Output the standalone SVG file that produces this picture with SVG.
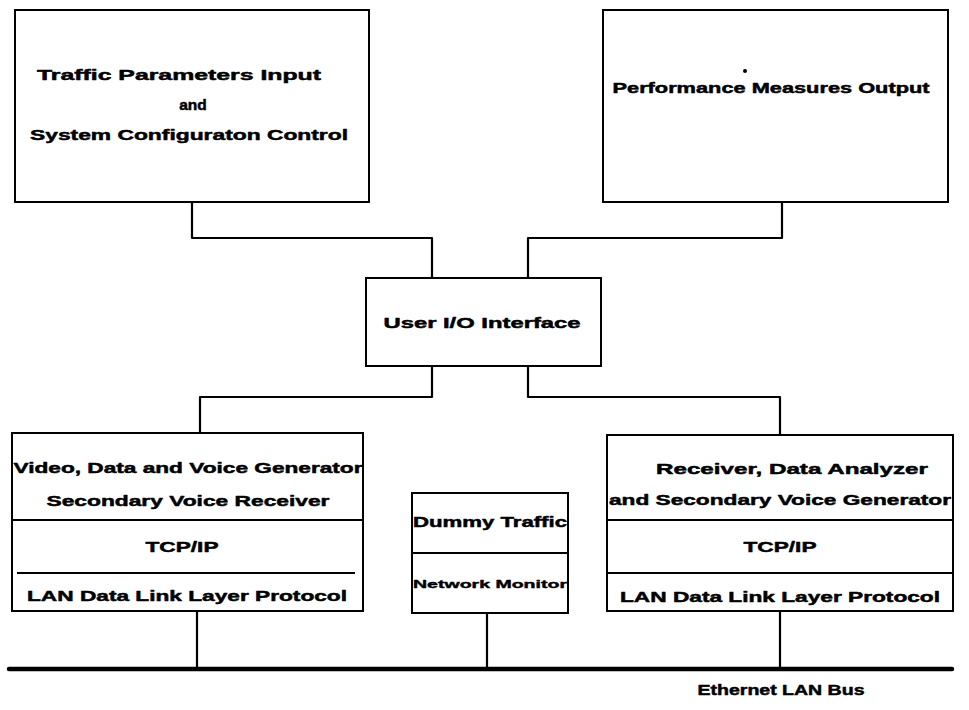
<svg xmlns="http://www.w3.org/2000/svg" width="969" height="710" viewBox="0 0 969 710">
  <style>
    .box { fill: #ffffff; stroke: #000000; stroke-width: 2; }
    .rule { stroke: #000000; stroke-width: 2; fill: none; }
    .wire { stroke: #000000; stroke-width: 2.2; fill: none; stroke-linejoin: round; }
    .bus { stroke: #000000; stroke-width: 4.5; fill: none; stroke-linecap: round; }
    .lbl { font-family: "Liberation Sans", Arial, sans-serif; font-weight: bold; font-size: 15.5px; fill: #000000; stroke: #000000; stroke-width: 0.5; stroke-linejoin: round; text-anchor: middle; }
    .small { font-size: 11.5px; stroke-width: 0.4; }
  </style>
  <rect width="969" height="710" fill="#ffffff"/>

  <!-- connectors -->
  <g id="connectors">
    <path class="wire" d="M192,202 V238 H432 V278"/>
    <path class="wire" d="M782,202 V238 H528 V278"/>
    <path class="wire" d="M432,366 V397 H200 V433"/>
    <path class="wire" d="M528,366 V397 H780 V435"/>
    <path class="wire" d="M197,611 V669"/>
    <path class="wire" d="M487,613 V669"/>
    <path class="wire" d="M780,611 V669"/>
    <path class="bus" d="M9,669 H952"/>
  </g>

  <g id="traffic-input">
    <rect class="box" x="15" y="10" width="354" height="192"/>
    <text class="lbl" x="179" y="80" textLength="284" lengthAdjust="spacingAndGlyphs">Traffic Parameters Input</text>
    <text class="lbl" x="193" y="110">and</text>
    <text class="lbl" x="189" y="140" textLength="318" lengthAdjust="spacingAndGlyphs">System Configuraton Control</text>
  </g>

  <g id="performance-output">
    <rect class="box" x="603" y="10" width="345" height="192"/>
    <circle cx="745" cy="71" r="2" fill="#000000"/>
    <text class="lbl" x="771" y="93" textLength="317" lengthAdjust="spacingAndGlyphs">Performance Measures Output</text>
  </g>

  <g id="user-io">
    <rect class="box" x="366" y="278" width="235" height="88"/>
    <text class="lbl" x="482" y="328" textLength="197" lengthAdjust="spacingAndGlyphs">User I/O Interface</text>
  </g>

  <g id="generator-stack">
    <rect class="box" x="12" y="433" width="351" height="178"/>
    <line class="rule" x1="12" y1="520" x2="363" y2="520"/>
    <line class="rule" x1="17" y1="573" x2="355" y2="573"/>
    <text class="lbl" x="188" y="473" textLength="349" lengthAdjust="spacingAndGlyphs">Video, Data and Voice Generator</text>
    <text class="lbl" x="188" y="506" textLength="283" lengthAdjust="spacingAndGlyphs">Secondary Voice Receiver</text>
    <text class="lbl" x="182" y="552" textLength="73" lengthAdjust="spacingAndGlyphs">TCP/IP</text>
    <text class="lbl" x="187" y="601" textLength="320" lengthAdjust="spacingAndGlyphs">LAN Data Link Layer Protocol</text>
  </g>

  <g id="dummy-traffic">
    <rect class="box" x="412" y="493" width="156" height="120"/>
    <line class="rule" x1="412" y1="553" x2="568" y2="553"/>
    <text class="lbl" x="490" y="527" textLength="154" lengthAdjust="spacingAndGlyphs">Dummy Traffic</text>
    <text class="lbl small" x="490" y="588" textLength="154" lengthAdjust="spacingAndGlyphs">Network Monitor</text>
  </g>

  <g id="analyzer-stack">
    <rect class="box" x="607" y="435" width="346" height="176"/>
    <line class="rule" x1="607" y1="520" x2="953" y2="520"/>
    <line class="rule" x1="607" y1="573" x2="953" y2="573"/>
    <text class="lbl" x="792" y="474" textLength="272" lengthAdjust="spacingAndGlyphs">Receiver, Data Analyzer</text>
    <text class="lbl" x="780" y="505" textLength="342" lengthAdjust="spacingAndGlyphs">and Secondary Voice Generator</text>
    <text class="lbl" x="780" y="552" textLength="73" lengthAdjust="spacingAndGlyphs">TCP/IP</text>
    <text class="lbl" x="780" y="602" textLength="320" lengthAdjust="spacingAndGlyphs">LAN Data Link Layer Protocol</text>
  </g>

  <g id="bus-label">
    <text class="lbl" x="781" y="695" textLength="167" lengthAdjust="spacingAndGlyphs">Ethernet LAN Bus</text>
  </g>
</svg>
